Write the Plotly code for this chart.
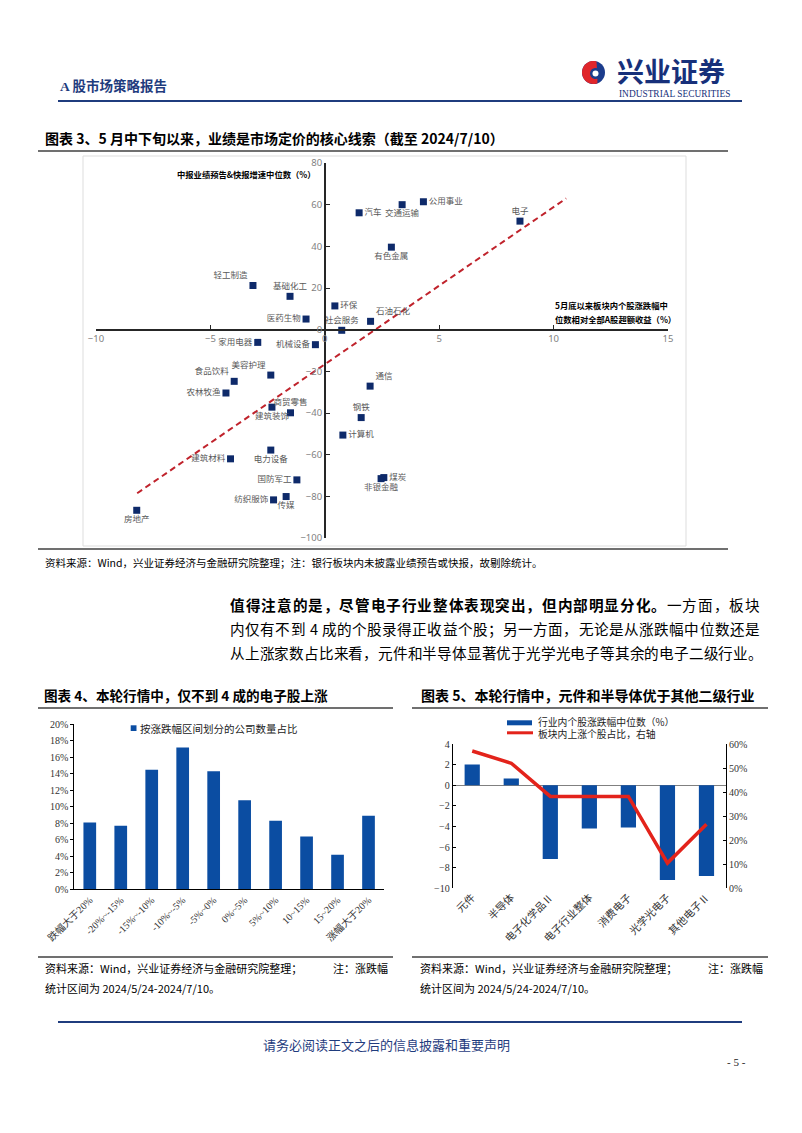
import numpy as np
import plotly.graph_objects as go

W, H = 802, 1133
def fx(x): return x / W
def fy(y): return 1 - y / H

SANS = "Noto Sans CJK SC, Noto Sans, sans-serif"
SERIF = "Liberation Serif, Noto Sans CJK SC, serif"
NAVY = "#1F3C7E"
BLUE = "#0B4DA2"
RED = "#E3231B"

# ---------------- data: chart 3 (scatter) ----------------
industries = ["汽车", "公用事业", "交通运输", "电子", "有色金属", "轻工制造", "基础化工", "医药生物",
              "环保", "石油石化", "社会服务", "家用电器", "机械设备", "美容护理", "食品饮料", "农林牧渔",
              "建筑装饰", "商贸零售", "电力设备", "建筑材料", "国防军工", "传媒", "纺织服饰", "房地产",
              "通信", "钢铁", "计算机", "煤炭", "非银金融"]
excess_return = [1.5, 4.31, 3.38, 8.53, 2.91, -3.14, -1.52, -0.82,
                 0.44, 2.0, 0.74, -2.93, -0.41, -2.36, -3.96, -4.32,
                 -2.31, -1.50, -2.36, -4.12, -1.22, -1.69, -2.24, -8.22,
                 1.98, 1.59, 0.79, 2.58, 2.46]
earnings_growth = [56.1, 61.4, 60.0, 52.1, 39.6, 21.2, 16.0, 5.1,
                   11.4, 4.0, -0.3, -6.1, -7.2, -21.8, -24.8, -30.4,
                   -37.2, -39.9, -57.8, -62.0, -72.1, -80.1, -81.7, -86.7,
                   -27.1, -42.2, -50.6, -71.0, -71.5]
trend_x = [-8.2, 10.55]
trend_y = [-78.5, 63.0]
x_ticks3 = [-10, -5, 0, 5, 10, 15]

label_pos = ["middle right", "middle right", "bottom center", "top center", "bottom center",
             "top left", "top center", "middle left", "middle right", "top right", "top center",
             "middle left", "middle left", "top left", "top left", "middle left", "bottom center",
             "top center", "bottom center", "middle left", "middle left", "bottom center",
             "middle left", "bottom center", "top right", "top center", "middle right",
             "middle right", "bottom center"]

# ---------------- data: chart 4 ----------------
ranges = ["跌幅大于20%", "-20%~-15%", "-15%~-10%", "-10%~-5%", "-5%~0%",
          "0%~5%", "5%~10%", "10~15%", "15~20%", "涨幅大于20%"]
company_share = [8.1, 7.7, 14.5, 17.2, 14.3, 10.8, 8.3, 6.4, 4.2, 8.9]

# ---------------- data: chart 5 ----------------
sub_industries = ["元件", "半导体", "电子化学品Ⅱ", "电子行业整体", "消费电子", "光学光电子", "其他电子Ⅱ"]
median_change = [2.0, 0.65, -7.15, -4.2, -4.1, -9.2, -8.8]
rising_share = [57.1, 52.0, 38.2, 38.2, 38.2, 10.5, 26.6]

fig = go.Figure()

fig.add_trace(go.Scatter(x=trend_x, y=trend_y, mode="lines",
                         line=dict(color="#C0232C", width=2, dash="6px,4px"),
                         xaxis="x", yaxis="y", hoverinfo="skip", showlegend=False))
fig.add_trace(go.Scatter(x=excess_return, y=earnings_growth, mode="markers+text",
                         text=industries, textposition=label_pos,
                         marker=dict(symbol="square", size=7, color="#0E2A6A"),
                         textfont=dict(family=SANS, size=8.5, color="#595959"),
                         xaxis="x", yaxis="y", showlegend=False, cliponaxis=False))

fig.add_trace(go.Bar(x=ranges, y=company_share, marker=dict(color=BLUE, line=dict(width=0)),
                     width=0.41, xaxis="x2", yaxis="y2", showlegend=False))

fig.add_trace(go.Bar(x=sub_industries, y=median_change, marker=dict(color=BLUE, line=dict(width=0)),
                     width=0.39, xaxis="x3", yaxis="y3", showlegend=False))
fig.add_trace(go.Scatter(x=sub_industries, y=rising_share, mode="lines",
                         line=dict(color=RED, width=3.5),
                         xaxis="x3", yaxis="y4", showlegend=False))

# scatter geometry
sx0, sx1 = fx(96), fx(668)
sy0, sy1 = fy(538), fy(163)
pos_y0 = sy0 + (sy1 - sy0) * (0 - (-100)) / 180
pos_x0 = sx0 + (sx1 - sx0) * (0 - (-10)) / 25

tick3 = dict(family="Noto Sans, sans-serif", size=9.5, color="#7F7F7F")
tickS = dict(family=SERIF, size=10, color="#333333")

layout_axes = dict(
    xaxis=dict(domain=[sx0, sx1], range=[-10, 15], anchor="free", position=pos_y0,
               showline=True, linecolor="#262626", linewidth=1.5, ticks="inside", ticklen=4,
               tickcolor="#262626", tickvals=x_ticks3, tickfont=tick3, showgrid=False,
               zeroline=False, automargin=False),
    yaxis=dict(domain=[sy0, sy1], range=[-100, 80], anchor="free", position=pos_x0,
               showline=True, linecolor="#262626", linewidth=1.5, ticks="inside", ticklen=4,
               tickcolor="#262626", dtick=20, tickfont=tick3, showgrid=False,
               zeroline=False, automargin=False),
    xaxis2=dict(domain=[fx(74.3), fx(384)], anchor="y2", type="category", showline=True,
                linecolor="#000000", linewidth=1, ticks="", tickangle=-45, tickfont=tickS,
                showgrid=False, zeroline=False, automargin=False),
    yaxis2=dict(domain=[fy(889.3), fy(724.3)], anchor="x2", range=[0, 20], dtick=2,
                ticksuffix="%", showline=True, linecolor="#000000", linewidth=1,
                ticks="outside", ticklen=3, tickcolor="#000000", tickfont=tickS,
                showgrid=False, zeroline=False, automargin=False),
    xaxis3=dict(domain=[fx(452.7), fx(726)], anchor="y3", type="category", showline=False,
                ticks="", tickangle=-45, tickfont=dict(family=SERIF, size=10.5, color="#333333"),
                showgrid=False, zeroline=False, automargin=False),
    yaxis3=dict(domain=[fy(888.3), fy(744)], anchor="x3", range=[-10, 4], dtick=2,
                showline=True, linecolor="#000000", linewidth=1, ticks="inside", ticklen=3,
                tickcolor="#000000", tickfont=tickS, showgrid=False, zeroline=True,
                zerolinecolor="#808080", zerolinewidth=1, automargin=False),
    yaxis4=dict(overlaying="y3", side="right", anchor="x3", range=[0, 60], dtick=10,
                ticksuffix="%", showline=True, linecolor="#000000", linewidth=1,
                ticks="inside", ticklen=3, tickcolor="#000000", tickfont=tickS,
                showgrid=False, zeroline=False, automargin=False),
)

shapes = []
def hline(x0, x1, y, color, width):
    shapes.append(dict(type="line", xref="paper", yref="paper", x0=fx(x0), x1=fx(x1),
                       y0=fy(y), y1=fy(y), line=dict(color=color, width=width)))

hline(58, 742, 101, NAVY, 2)
hline(58, 742, 1022, NAVY, 2)
for (a, b, y) in [(38, 728, 151), (38, 728, 549), (38, 393, 708), (412, 768, 708),
                  (38, 393, 957), (412, 768, 957)]:
    hline(a, b, y, "#404040", 1.3)

# light frame around scatter
shapes.append(dict(type="rect", xref="paper", yref="paper", x0=fx(83), x1=fx(686),
                   y0=fy(546), y1=fy(156), line=dict(color="#DDDDDD", width=1)))
# legends
shapes.append(dict(type="rect", xref="paper", yref="paper", x0=fx(130.7), x1=fx(136.5),
                   y0=fy(731), y1=fy(725.3), fillcolor=BLUE, line=dict(width=0)))
shapes.append(dict(type="rect", xref="paper", yref="paper", x0=fx(507), x1=fx(532),
                   y0=fy(725.3), y1=fy(720.3), fillcolor=BLUE, line=dict(width=0)))
shapes.append(dict(type="line", xref="paper", yref="paper", x0=fx(507), x1=fx(533),
                   y0=fy(732.8), y1=fy(732.8), line=dict(color=RED, width=3)))

# logo
cx, cy, r = 593.5, 72.5, 11.5
shapes.append(dict(type="circle", xref="paper", yref="paper", x0=fx(cx - r), x1=fx(cx + r),
                   y0=fy(cy + r), y1=fy(cy - r), fillcolor="#1B3C8C", line=dict(width=0)))
ang_o = np.radians(np.linspace(75, 290, 30))
ang_i = np.radians(np.linspace(290, 75, 30))
pts = [(cx + r * np.cos(a), cy - r * np.sin(a)) for a in ang_o]
pts += [(cx + 2 + 5.5 * np.cos(a), cy + 1 - 5.5 * np.sin(a)) for a in ang_i]
path = "M " + " L ".join(f"{fx(x):.5f},{fy(y):.5f}" for x, y in pts) + " Z"
shapes.append(dict(type="path", xref="paper", yref="paper", path=path,
                   fillcolor="#E0262B", line=dict(width=0)))
shapes.append(dict(type="circle", xref="paper", yref="paper", x0=fx(cx - 1), x1=fx(cx + 5),
                   y0=fy(cy + 4), y1=fy(cy - 2), fillcolor="#FFFFFF", line=dict(width=0)))

annotations = []
def txt(x, y, s, size, color="#000000", anchor="left", family=SANS, yanchor="middle"):
    annotations.append(dict(x=fx(x), y=fy(y), xref="paper", yref="paper", text=s,
                            showarrow=False, xanchor=anchor, yanchor=yanchor,
                            font=dict(family=family, size=size, color=color), borderpad=0))

txt(59, 86, "<b>A 股市场策略报告</b>", 13.5, NAVY, family=SERIF)
txt(616, 70, "<b>兴业证券</b>", 27, "#17307A")
txt(618, 94.5, "INDUSTRIAL SECURITIES", 9.4, "#17307A", family=SERIF)

txt(44, 138, "<b>图表 3、5 月中下旬以来，业绩是市场定价的核心线索（截至 2024/7/10）</b>", 14)
txt(317, 174, "<b>中报业绩预告&快报增速中位数（%）</b>", 8.3, anchor="right")
txt(554, 305, "<b>5月底以来板块内个股涨跌幅中</b>", 8.3)
txt(554, 319, "<b>位数相对全部A股超额收益（%）</b>", 8.3)
txt(44, 562, "资料来源：Wind，兴业证券经济与金融研究院整理；注：银行板块内未披露业绩预告或快报，故剔除统计。", 10.5)

# paragraph, justified character by character
def justify(y, xl, xr, tokens, size=14.6):
    total = sum(t[2] for t in tokens)
    pitch = (xr - xl) / total
    cum = 0
    for s, b, w in tokens:
        t = f"<b>{s}</b>" if b else s
        txt(xl + (cum + w / 2) * pitch, y, t, size, anchor="center")
        cum += w

def chars(s, bold):
    return [(c, bold, 1.0) for c in s]

line1 = chars("值得注意的是，尽管电子行业整体表现突出，但内部明显分化。", True) + chars("一方面，板块", False)
line2 = chars("内仅有不到", False) + [("4", False, 1.05)] + chars("成的个股录得正收益个股；另一方面，无论是从涨跌幅中位数还是", False)
line3 = chars("从上涨家数占比来看，元件和半导体显著优于光学光电子等其余的电子二级行业。", False)
justify(604, 230, 760, line1)
justify(628, 230, 760, line2)
justify(652, 230, 763, line3)

txt(43, 695, "<b>图表 4、本轮行情中，仅不到 4 成的电子股上涨</b>", 13.6)
txt(420, 695, "<b>图表 5、本轮行情中，元件和半导体优于其他二级行业</b>", 14)

txt(139, 728, "按涨跌幅区间划分的公司数量占比", 10.5, "#222222")
txt(537, 722.3, "行业内个股涨跌幅中位数（%）", 9.8, "#222222")
txt(537, 733.8, "板块内上涨个股占比，右轴", 9.8, "#222222")

txt(44, 968, "资料来源：Wind，兴业证券经济与金融研究院整理；", 11)
txt(389, 968, "注：涨跌幅", 11, anchor="right")
txt(44, 988, "统计区间为 2024/5/24-2024/7/10。", 11)
txt(419, 968, "资料来源：Wind，兴业证券经济与金融研究院整理；", 11)
txt(764, 968, "注：涨跌幅", 11, anchor="right")
txt(419, 988, "统计区间为 2024/5/24-2024/7/10。", 11)

txt(386, 1044, "请务必阅读正文之后的信息披露和重要声明", 13, NAVY, anchor="center")
txt(736, 1062, "- 5 -", 11, "#222222", anchor="center", family=SERIF)

fig.update_layout(
    width=W, height=H, autosize=False, template="none",
    margin=dict(l=0, r=0, t=0, b=0, pad=0),
    paper_bgcolor="#FFFFFF", plot_bgcolor="rgba(0,0,0,0)",
    showlegend=False, hovermode=False,
    shapes=shapes, annotations=annotations, **layout_axes,
)

fig.write_html("out.html", config={"displayModeBar": False},
               post_script="document.body.style.margin='0';document.body.style.padding='0';")
